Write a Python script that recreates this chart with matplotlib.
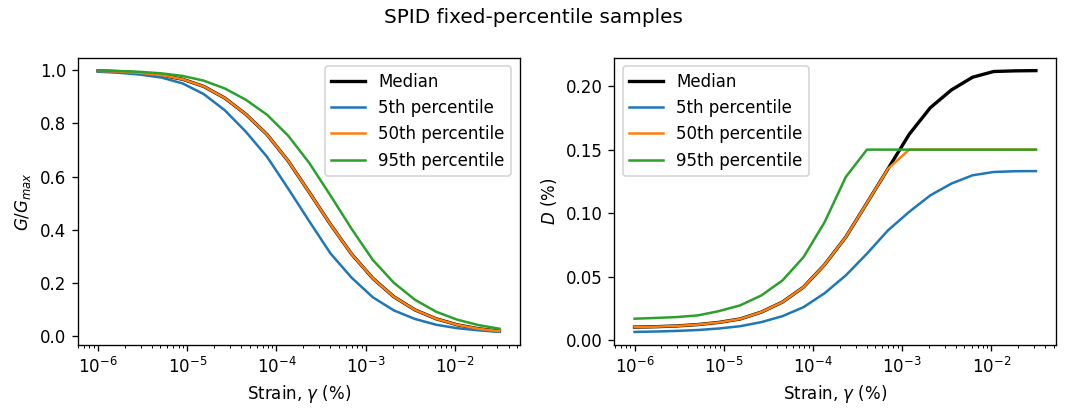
import matplotlib
matplotlib.use("Agg")
import matplotlib.pyplot as plt

strain = [1.000e-6, 1.725e-6, 2.976e-6, 5.135e-6, 8.859e-6, 1.528e-5, 2.637e-5,
          4.549e-5, 7.848e-5, 1.354e-4, 2.336e-4, 4.030e-4, 6.952e-4, 1.199e-3,
          2.069e-3, 3.570e-3, 6.158e-3, 1.062e-2, 1.833e-2, 3.162e-2]

mod_median = [0.9970, 0.9944, 0.9896, 0.9809, 0.9657, 0.9387, 0.8949, 0.8337, 0.7576, 0.6584,
              0.5402, 0.4202, 0.3087, 0.2179, 0.1481, 0.0988, 0.0654, 0.0428, 0.0280, 0.0187]
mod_p05 = [0.9940, 0.9900, 0.9830, 0.9720, 0.9500, 0.9100, 0.8490, 0.7680, 0.6740, 0.5545,
           0.4314, 0.3110, 0.2199, 0.1466, 0.0968, 0.0647, 0.0430, 0.0300, 0.0220, 0.0160]
mod_p50 = list(mod_median)
mod_p95 = [0.9981, 0.9965, 0.9934, 0.9878, 0.9781, 0.9604, 0.9310, 0.8882, 0.8321, 0.7534,
           0.6506, 0.5288, 0.4034, 0.2871, 0.2008, 0.1368, 0.0919, 0.0620, 0.0418, 0.0280]

damp_median = [0.0103, 0.0106, 0.0112, 0.0123, 0.0140, 0.0167, 0.0221, 0.0300, 0.0418, 0.0595,
               0.0812, 0.1080, 0.1350, 0.1620, 0.1830, 0.1970, 0.2070, 0.2115, 0.2120, 0.2122]
damp_p05 = [0.0065, 0.0068, 0.0073, 0.0080, 0.0092, 0.0110, 0.0142, 0.0189, 0.0260, 0.0370,
            0.0510, 0.0681, 0.0865, 0.1010, 0.1140, 0.1233, 0.1298, 0.1324, 0.1330, 0.1331]
damp_p50 = [0.0103, 0.0106, 0.0112, 0.0123, 0.0140, 0.0167, 0.0221, 0.0300, 0.0418, 0.0595,
            0.0812, 0.1080, 0.1350, 0.1500, 0.1500, 0.1500, 0.1500, 0.1500, 0.1500, 0.1500]
damp_p95 = [0.0169, 0.0175, 0.0182, 0.0195, 0.0229, 0.0274, 0.0352, 0.0470, 0.0654, 0.0930,
            0.1285, 0.1500, 0.1500, 0.1500, 0.1500, 0.1500, 0.1500, 0.1500, 0.1500, 0.1500]

labels = ["Median", "5th percentile", "50th percentile", "95th percentile"]

fig, axes = plt.subplots(1, 2, figsize=(1067 / 120, 417 / 120), dpi=120)
fig.subplots_adjust(left=0.0731, right=0.9897, bottom=0.1727, top=0.862, wspace=0.215)

for ax, series, ylabel, loc in [
    (axes[0], [mod_median, mod_p05, mod_p50, mod_p95], "$G/G_{max}$", "upper right"),
    (axes[1], [damp_median, damp_p05, damp_p50, damp_p95], "$D$ (%)", "upper left"),
]:
    ax.plot(strain, series[0], color="black", lw=2, label=labels[0])
    ax.plot(strain, series[1], color="C0", lw=1.5, label=labels[1])
    ax.plot(strain, series[2], color="C1", lw=1.5, label=labels[2])
    ax.plot(strain, series[3], color="C2", lw=1.5, label=labels[3])
    ax.set_xscale("log")
    ax.set_xlabel("Strain, $\\gamma$ (%)")
    ax.set_ylabel(ylabel)
    ax.legend(loc=loc)

fig.suptitle("SPID fixed-percentile samples")
fig.savefig("out.png", dpi=120)
